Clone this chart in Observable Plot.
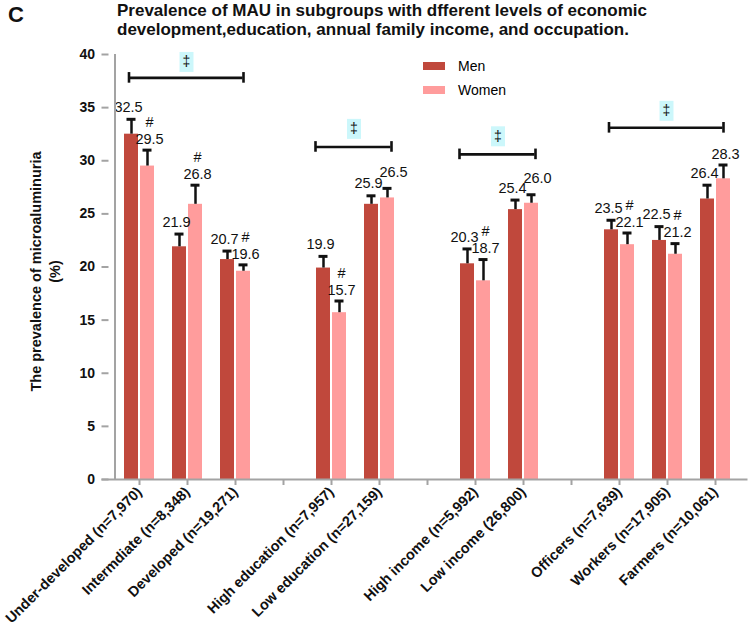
<!DOCTYPE html>
<html><head><meta charset="utf-8">
<script src="https://cdn.jsdelivr.net/npm/d3@7"></script>
<script src="https://cdn.jsdelivr.net/npm/@observablehq/plot@0.6"></script>
<style>
body{margin:0;background:#fff;font-family:"Liberation Sans",Arial,sans-serif;}
#wrap{position:relative;width:748px;height:631px;overflow:hidden;background:#fff}
#head{position:relative;height:40px}
#panel{position:absolute;left:8px;top:2px;font-weight:bold;font-size:22px;color:#111}
#title{position:absolute;left:117px;top:1px;font-weight:bold;font-size:17px;line-height:19px;color:#111;white-space:nowrap}
#chart svg{display:block}
#legend{position:absolute;left:423px;top:54px}
#legend .lg-swatches{display:flex !important;flex-direction:column !important;align-items:flex-start !important;min-height:0 !important;margin:0 !important;font-size:14px !important;font-family:"Liberation Sans",Arial,sans-serif !important;color:#000}
#legend .lg-swatch{height:24px !important;margin:0 !important;display:flex !important;align-items:center !important}
#legend .lg-swatch svg{margin-right:13px !important}
</style></head>
<body>
<div id="wrap">
  <div id="head"><div id="panel"></div><div id="title"></div></div>
  <div id="chart"></div>
  <div id="legend"></div>
</div>
<script>
// ---- data ----
const panelLetter = "C";
const titleLines = ["Prevalence of MAU in subgroups with dfferent levels of economic", "development,education, annual family income, and occupation."];
const yTitleLines = ["The prevalence of microaluminuria", "(%)"];
const categories = ["Under-developed (n=7,970)", "Intermdiate (n=8,348)", "Developed (n=19,271)",
  "High education (n=7,957)", "Low education (n=27,159)",
  "High income (n=5,992)", "Low income (26,800)",
  "Officers (n=7,639)", "Workers (n=17,905)", "Farmers (n=10,061)"];
const slots = ["Under-developed (n=7,970)", "Intermdiate (n=8,348)", "Developed (n=19,271)", "gap1",
  "High education (n=7,957)", "Low education (n=27,159)", "gap2",
  "High income (n=5,992)", "Low income (26,800)", "gap3",
  "Officers (n=7,639)", "Workers (n=17,905)", "Farmers (n=10,061)"];
const series = ["Men", "Women"];
const menValues = [32.5, 21.9, 20.7, 19.9, 25.9, 20.3, 25.4, 23.5, 22.5, 26.4];
const menLabels = ["32.5", "21.9", "20.7", "19.9", "25.9", "20.3", "25.4", "23.5", "22.5", "26.4"];
const menErr = [1.4, 1.2, 0.8, 1.1, 0.8, 1.4, 0.9, 0.9, 1.3, 1.3];
const womenValues = [29.5, 25.9, 19.6, 15.7, 26.5, 18.7, 26.0, 22.1, 21.2, 28.3];
const womenLabels = ["29.5", "26.8", "19.6", "15.7", "26.5", "18.7", "26.0", "22.1", "21.2", "28.3"];
const womenErr = [1.5, 1.8, 0.6, 1.1, 0.9, 2.0, 0.8, 1.1, 1.0, 1.3];
const womenSig = [true, true, true, true, false, true, false, true, true, false];
const bracketFrom = ["Under-developed (n=7,970)", "High education (n=7,957)", "High income (n=5,992)", "Officers (n=7,639)"];
const bracketTo = ["Developed (n=19,271)", "Low education (n=27,159)", "Low income (26,800)", "Farmers (n=10,061)"];
const bracketY = [37.8, 31.3, 30.6, 33.1];
const bracketMarkY = [39.3, 33.0, 32.3, 34.7];
const yTicks = [0, 5, 10, 15, 20, 25, 30, 35, 40];

// ---- styles ----
const menColor = "#c0483c", womenColor = "#ff9c9c", axisGray = "#a3a3a3", cyan = "#ccf7fb";

document.getElementById("panel").textContent = panelLetter;
document.getElementById("title").innerHTML = titleLines.map(s => s.replace(/&/g, "&amp;")).join("<br>");

const rows = categories.flatMap((c, i) => [
  {cat: c, sex: "Men", value: menValues[i], err: menErr[i], label: menLabels[i], sig: false, other: womenValues[i] + womenErr[i]},
  {cat: c, sex: "Women", value: womenValues[i], err: womenErr[i], label: womenLabels[i], sig: womenSig[i], other: menValues[i] + menErr[i]}
]);
const men = rows.filter(d => d.sex === "Men");
const women = rows.filter(d => d.sex === "Women");
// women labels whose cap sits just above the men's cap get nudged up/right to avoid collisions
const crowded = d => d.value + d.err >= d.other && d.value + d.err - d.other < 1.5;
const womenPlain = women.filter(d => !crowded(d));
const womenCrowded = women.filter(crowded);

const brackets = bracketFrom.map((f, i) => {
  const a = slots.indexOf(f), b = slots.indexOf(bracketTo[i]);
  return {from: f, to: bracketTo[i], y: bracketY[i], my: bracketMarkY[i], n: b - a + 1, mid: slots[Math.floor((a + b) / 2)]};
});
const b3 = brackets.filter(d => d.n === 3);
const b2 = brackets.filter(d => d.n === 2);
const box = {draw(ctx) { ctx.rect(-7, -10, 14, 20); }};

function bracketMarks(data, startDx, endDx, midDx) {
  return [
    Plot.ruleY(data, {x1: "from", x2: "to", y: "y", insetLeft: 24.5 + startDx, insetRight: 24.5 - endDx, stroke: "#111", strokeWidth: 2.6}),
    Plot.ruleX(data, {x: "from", y1: d => d.y - 0.5, y2: d => d.y + 0.5, dx: startDx, stroke: "#111", strokeWidth: 2.6}),
    Plot.ruleX(data, {x: "to", y1: d => d.y - 0.5, y2: d => d.y + 0.5, dx: endDx, stroke: "#111", strokeWidth: 2.6}),
    Plot.dot(data, {x: "mid", y: "my", symbol: box, fill: cyan, stroke: null, dx: midDx}),
    Plot.text(data, {x: "mid", y: "my", text: () => "‡", dx: midDx, fontSize: 14, fill: "#111"})
  ];
}

const labelStyle = {fontSize: 14.5, fill: "#111"};
const cap = d => d.value + d.err;

const chart = Plot.plot({
  width: 748,
  height: 591,
  marginTop: 14,
  marginBottom: 152,
  marginLeft: 108.5,
  marginRight: 3.5,
  style: {fontFamily: "'Liberation Sans', Arial, sans-serif", background: "#fff", color: "#000"},
  x: {type: "band", domain: slots, padding: 0, label: null},
  y: {domain: [0, 40], label: null},
  color: {domain: series, range: [menColor, womenColor]},
  marks: [
    Plot.barY(men, {x: "cat", y: "value", fill: "sex", insetLeft: 9, insetRight: 25}),
    Plot.barY(women, {x: "cat", y: "value", fill: "sex", insetLeft: 25, insetRight: 9}),
    Plot.ruleX(men, {x: "cat", y1: "value", y2: cap, dx: -8, stroke: "#111", strokeWidth: 2.5}),
    Plot.ruleX(women, {x: "cat", y1: "value", y2: cap, dx: 8, stroke: "#111", strokeWidth: 2.5}),
    Plot.tickY(men, {x: "cat", y: cap, dx: -8, insetLeft: 19.5, insetRight: 19.5, stroke: "#111", strokeWidth: 3}),
    Plot.tickY(women, {x: "cat", y: cap, dx: 8, insetLeft: 19.5, insetRight: 19.5, stroke: "#111", strokeWidth: 3}),
    Plot.text(men, {x: "cat", y: cap, text: "label", dx: -11, dy: -12, ...labelStyle}),
    Plot.text(womenPlain, {x: "cat", y: cap, text: "label", dx: 10, dy: -11, ...labelStyle}),
    Plot.text(womenCrowded, {x: "cat", y: cap, text: "label", dx: 14, dy: -16, ...labelStyle}),
    Plot.text(women.filter(d => d.sig), {x: "cat", y: cap, text: () => "#", dx: 10, dy: -28, ...labelStyle}),
    ...bracketMarks(b3, -10.5, 8, -1),
    ...bracketMarks(b2, -16, 12, 22.5),
    Plot.ruleY([0], {stroke: axisGray, strokeWidth: 2, insetLeft: -7, insetRight: -3}),
    Plot.ruleX([slots[0]], {x: d => d, y1: 0, y2: 40, dx: -24.5, stroke: axisGray, strokeWidth: 2}),
    Plot.axisY({ticks: yTicks, tickSize: 7, tickPadding: 7, stroke: axisGray, strokeWidth: 2, fill: "#111", fontSize: 14, fontWeight: "bold", label: null}),
    Plot.axisX({tickRotate: -45, tickSize: 6, tickPadding: 4, stroke: axisGray, strokeWidth: 2, fill: "#111", fontSize: 14.5, fontWeight: "bold", tickFormat: d => d.startsWith("gap") ? "" : d, label: null}),
    Plot.text([yTitleLines.join("\n")], {frameAnchor: "left", textAnchor: "middle", rotate: -90, dx: -64.5, dy: 4.5, lineHeight: 1.3, fontSize: 14.5, fontWeight: "bold", fill: "#111"})
  ]
});
document.getElementById("chart").appendChild(chart);

const leg = chart.legend("color", {swatchWidth: 22, swatchHeight: 8, className: "lg"});
document.getElementById("legend").appendChild(leg);
</script>
</body></html>
